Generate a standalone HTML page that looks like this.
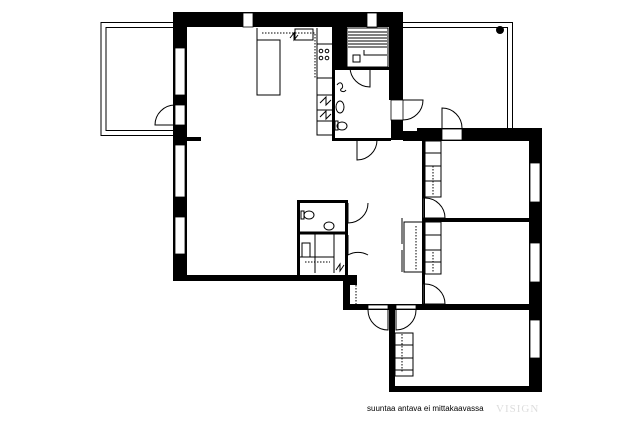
<!DOCTYPE html>
<html><head><meta charset="utf-8"><style>
html,body{margin:0;padding:0;background:#fff;}
svg{display:block}
</style></head><body>
<svg width="640" height="427" viewBox="0 0 640 427" xmlns="http://www.w3.org/2000/svg">
<rect width="640" height="427" fill="#fff"/>
<!-- left balcony -->
<g fill="none" stroke="#000" stroke-width="1">
<rect x="101" y="22.5" width="73" height="113"/>
<rect x="106" y="27.5" width="68" height="103"/>
<!-- right balcony -->
<path d="M403 22.5 H512.5 V130"/>
<path d="M403 27.5 H507.5 V130"/>
</g>
<circle cx="500" cy="30" r="4" fill="#000"/>
<!-- thick walls -->
<g fill="#000">
<rect x="173" y="12" width="230" height="15"/>
<rect x="173" y="12" width="14" height="269"/>
<rect x="173" y="275" width="184" height="6"/>
<rect x="332" y="12" width="15" height="58"/>
<rect x="389" y="12" width="14" height="88"/>
<rect x="391" y="120" width="12" height="20"/>
<rect x="186" y="137" width="15" height="4"/>
<!-- right block -->
<rect x="417" y="128" width="125" height="13"/>
<rect x="403" y="131" width="14" height="10"/>
<rect x="529" y="128" width="13" height="264"/>
<rect x="422" y="141" width="3" height="164"/>
<rect x="422" y="218" width="108" height="4"/>
<rect x="345" y="304" width="185" height="6"/>
<rect x="389" y="304" width="6" height="88"/>
<rect x="389" y="386" width="153" height="6"/>
<rect x="343" y="275" width="7" height="35"/>
<rect x="350" y="275" width="7" height="10"/>
</g>
<!-- window gaps -->
<g fill="#fff" stroke="#000" stroke-width="0.8">
<rect x="243" y="13" width="10" height="14"/>
<rect x="367" y="13" width="10" height="14"/>
<rect x="175" y="48" width="10" height="47"/>
<rect x="175" y="105" width="10" height="20"/>
<rect x="175" y="145" width="10" height="52"/>
<rect x="175" y="217" width="10" height="37"/>
<rect x="530" y="163" width="10" height="39"/>
<rect x="530" y="243" width="10" height="39"/>
<rect x="530" y="320" width="10" height="38"/>
<rect x="391" y="100" width="12" height="20"/>
<rect x="442" y="129" width="20" height="11"/>
<rect x="368" y="305" width="20" height="4"/>
<rect x="396" y="305" width="20" height="4"/>
<rect x="423" y="198" width="1" height="20"/>
<rect x="423" y="284" width="1" height="20"/>
</g>
<!-- interior thin walls -->
<g fill="none" stroke="#000" stroke-width="3">
<path d="M333.5 70 V139.5 H391"/>
<path d="M347 68.5 H390"/>
<path d="M298.5 202 V275 M297 201.5 H348 M298 233 H348 M346.5 201 V275"/>
</g>
<g fill="none" stroke="#000" stroke-width="1">
<!-- sauna -->
<rect x="347" y="28" width="41" height="39"/>
<path d="M348 32H387M348 35H387M348 38H387M348 41H387M348 44H387M348 47H387M364 50V55H387"/>
<rect x="353" y="55" width="7" height="7"/>
<!-- kitchen -->
<rect x="257" y="40" width="23" height="55"/>
<path d="M257 28V40 M317 28 V135 H333 M317 44H333 M317 78H333 M317 95H333 M317 110H333 M317 121H333"/>
<rect x="295" y="29" width="18" height="11"/>
<path d="M262 33H315V78" stroke-dasharray="1.5,1.5"/>
<circle cx="321" cy="51" r="1.8"/><circle cx="327" cy="51" r="1.8"/>
<circle cx="321" cy="58" r="1.8"/><circle cx="327" cy="58" r="1.8"/>
<path d="M320 103l6-6v8l5-5M320 117l6-6v8l5-5M290 38l4-5v7l4-5"/>
<!-- bathroom fixtures -->
<ellipse cx="340" cy="107" rx="4" ry="6"/>
<ellipse cx="342" cy="126" rx="5" ry="4"/>
<rect x="335" y="121" width="3" height="9"/>
<path d="M337 85c4-6 8 2 4 4c-2 2 3 4 5 1"/>
<!-- WC fixtures -->
<ellipse cx="309" cy="215" rx="5" ry="4"/>
<rect x="301" y="211" width="3" height="8"/>
<ellipse cx="329" cy="226" rx="5" ry="4"/>
<rect x="302" y="243" width="8" height="14"/>
<path d="M315 234V273M300 257H334M334 234V273" />
<path d="M336 270l4-6v7l4-6"/>
<path d="M305 262H330" stroke-dasharray="1.5,1.5"/>
<path d="M356 285V304" stroke-dasharray="1.5,1.5"/>
<!-- closets -->
<rect x="404" y="222" width="19" height="50"/>
<path d="M402 218V244M402 250V272"/>
<path d="M416 226V270" stroke-dasharray="1.5,1.5"/>
<rect x="425" y="141" width="16" height="56"/>
<path d="M425 153H441M425 166H441M425 181H441"/>
<path d="M433 166V196" stroke-dasharray="1.5,1.5"/>
<rect x="425" y="222" width="16" height="52"/>
<path d="M425 235H441M425 250H441M425 262H441 M441 236V262"/>
<path d="M433 252V273" stroke-dasharray="1.5,1.5"/>
<rect x="395" y="333" width="18" height="43"/>
<path d="M395 345H413M395 358H413M395 370H413M413 333V375"/>
<path d="M402 334V372" stroke-dasharray="1.5,1.5"/>
<!-- doors -->
<path d="M175 105 A20 20 0 0 0 155 125 H175"/>
<path d="M370 67 V87 A20 20 0 0 1 350 67"/>
<path d="M403 100 H423 A20 20 0 0 1 403 120"/>
<path d="M442 128 V108 A20 20 0 0 1 462 128"/>
<path d="M357 140 V160 A20 20 0 0 0 377 140"/>
<path d="M348 203 V223 A20 20 0 0 0 368 203"/>
<path d="M348 235 V255 A20 20 0 0 1 368 255"/>
<path d="M425 198 A20 20 0 0 1 445 218 H425"/>
<path d="M425 284 A20 20 0 0 1 445 304 H425"/>
<path d="M368 310 A20 20 0 0 0 388 330 V310"/>
<path d="M396 310 V330 A20 20 0 0 0 416 310"/>
</g>
<text x="367" y="411" font-family="Liberation Sans, sans-serif" font-size="8" fill="#000">suuntaa antava ei mittakaavassa</text>
<text x="496" y="412" font-family="Liberation Serif, serif" font-size="11" fill="#ddd" letter-spacing="1">VISIGN</text>
</svg>
</body></html>
